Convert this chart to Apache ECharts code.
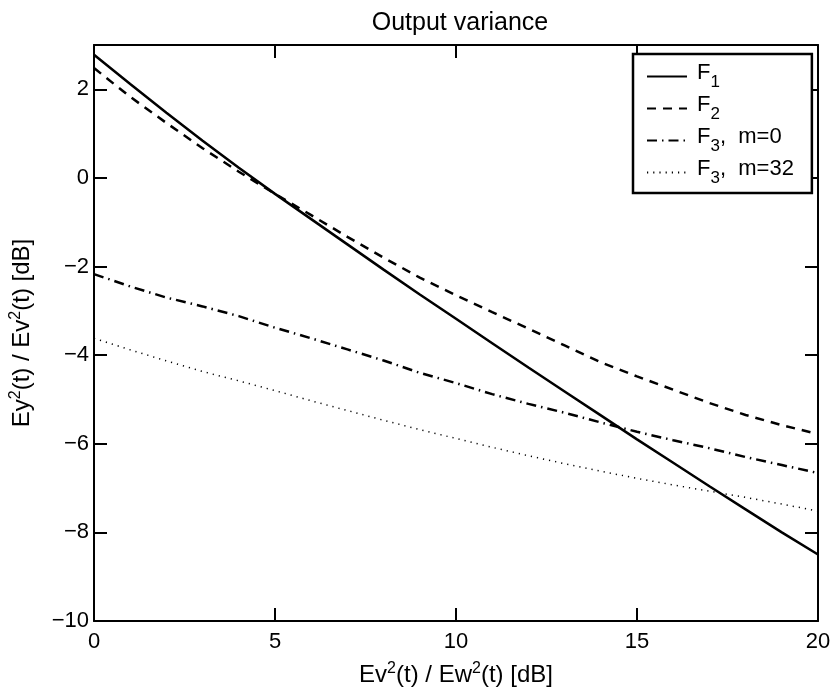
<!DOCTYPE html>
<html>
<head>
<meta charset="utf-8">
<script src="https://cdn.jsdelivr.net/npm/echarts@6/dist/echarts.min.js"></script>
<style>html,body{margin:0;padding:0;background:#fff}#c{width:834px;height:696px}</style>
</head>
<body>
<div id="c"></div>
<script>
var xValues = [0,1,2,3,4,5,6,7,8,9,10,11,12,13,14,15,16,17,18,19,20];
var f1 = [2.78,2.12,1.47,0.84,0.23,-0.36,-0.93,-1.50,-2.07,-2.63,-3.18,-3.73,-4.28,-4.82,-5.36,-5.90,-6.43,-6.96,-7.48,-8.00,-8.50];
var f2 = [2.48,1.83,1.24,0.67,0.14,-0.36,-0.84,-1.33,-1.80,-2.25,-2.65,-3.03,-3.40,-3.78,-4.16,-4.48,-4.78,-5.08,-5.35,-5.58,-5.78];
var f3m0 = [-2.17,-2.45,-2.70,-2.90,-3.12,-3.38,-3.62,-3.87,-4.12,-4.40,-4.63,-4.88,-5.10,-5.30,-5.52,-5.73,-5.92,-6.10,-6.30,-6.48,-6.66];
var f3m32 = [-3.62,-3.88,-4.13,-4.37,-4.58,-4.80,-5.03,-5.25,-5.47,-5.68,-5.88,-6.08,-6.27,-6.45,-6.62,-6.78,-6.93,-7.07,-7.21,-7.36,-7.52];
var seriesNames = ['{m|F}{sub|1}', '{m|F}{sub|2}', '{m|F}{sub|3}{m|,  m=0}', '{m|F}{sub|3}{m|,  m=32}'];

function pairs(ys){ return xValues.map(function(x,i){ return [x, ys[i]]; }); }
function fmt(v){ return v < 0 ? '\u2212' + Math.abs(v) : String(v); }
var FONT = 'Liberation Sans';
var chart = echarts.init(document.getElementById('c'), null, {renderer:'canvas'});
function axisCommon(){
  return {
    axisLine:{show:true, onZero:false, lineStyle:{color:'#000', width:2}},
    axisTick:{show:true, inside:true, length:13, lineStyle:{color:'#000', width:2}},
    splitLine:{show:false}
  };
}
function mkSeries(name, data, type, width){
  return {name:name, type:'line', data:pairs(data), showSymbol:false, symbol:'none',
    lineStyle:{color:'#000', width:width, type:type}, itemStyle:{color:'#000', opacity:0}, animation:false, z:3};
}
chart.setOption({
  animation:false,
  backgroundColor:'#fff',
  textStyle:{fontFamily:FONT},
  title:{text:'Output variance', left:455, top:6, textAlign:'center',
    textStyle:{fontFamily:FONT, fontSize:25, fontWeight:'normal', color:'#000'}},
  grid:{left:92, right:16, top:45, bottom:75, containLabel:false},
  legend:{
    data:seriesNames, orient:'vertical', left:633, top:54,
    itemWidth:40, itemHeight:14, itemGap:3,
    padding:[8,18,6,13], borderColor:'#000', borderWidth:2.5, backgroundColor:'#fff',
    itemStyle:{opacity:0},
    textStyle:{fontFamily:FONT, fontSize:22, color:'#000', padding:[0,0,0,5],
      rich:{
        m:{fontFamily:FONT, fontSize:22, color:'#000', verticalAlign:'top'},
        sub:{fontFamily:FONT, fontSize:17, color:'#000', verticalAlign:'top', padding:[12,0,0,0]}
      }}
  },
  xAxis:[
    Object.assign({type:'value', min:0, max:20, interval:5, position:'bottom',
      axisLabel:{color:'#000', fontSize:22, fontFamily:FONT, margin:10, formatter:fmt},
      name:'Ev{sup|2}(t) / Ew{sup|2}(t) [dB]', nameLocation:'middle', nameGap:40,
      nameTextStyle:{color:'#000', fontSize:24, fontFamily:FONT,
        rich:{sup:{fontSize:16, fontFamily:FONT, color:'#000', padding:[0,0,12,0]}}}}, axisCommon()),
    Object.assign({type:'value', min:0, max:20, interval:5, position:'top', axisLabel:{show:false}}, axisCommon())
  ],
  yAxis:[
    Object.assign({type:'value', min:-10, max:3, interval:2, position:'left',
      axisLabel:{color:'#000', fontSize:22, fontFamily:FONT, margin:5, formatter:fmt, showMaxLabel:false},
      name:'Ey{sup|2}(t) / Ev{sup|2}(t) [dB]', nameLocation:'middle', nameGap:58, nameRotate:90,
      nameTextStyle:{color:'#000', fontSize:24, fontFamily:FONT,
        rich:{sup:{fontSize:16, fontFamily:FONT, color:'#000', padding:[0,0,12,0]}}}}, axisCommon()),
    Object.assign({type:'value', min:-10, max:3, interval:2, position:'right', axisLabel:{show:false}}, axisCommon())
  ],
  series:[
    mkSeries(seriesNames[0], f1, 'solid', 2.5),
    mkSeries(seriesNames[1], f2, [9,7], 2.5),
    mkSeries(seriesNames[2], f3m0, [10,5,1.5,5], 2.5),
    mkSeries(seriesNames[3], f3m32, [1.2,5], 1.5)
  ]
});
</script>
</body>
</html>
